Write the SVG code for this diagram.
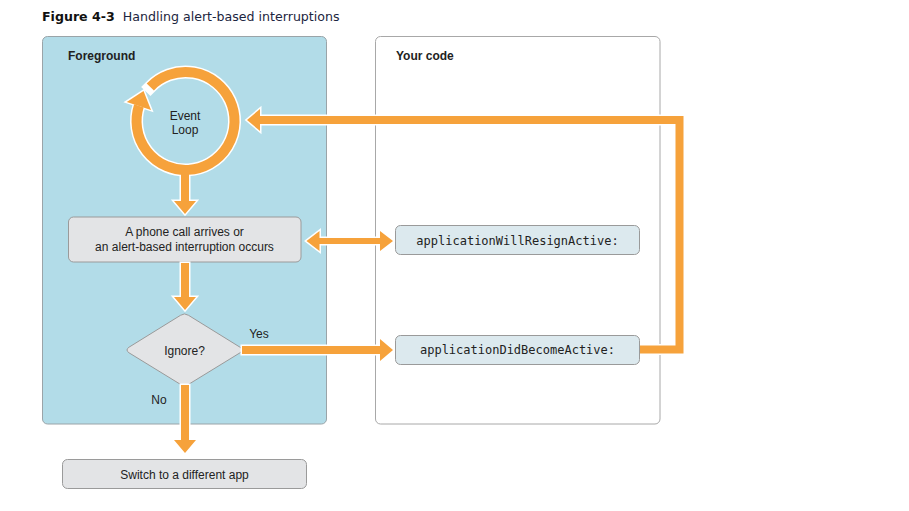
<svg xmlns="http://www.w3.org/2000/svg" xmlns:xlink="http://www.w3.org/1999/xlink" width="909" height="511" viewBox="0 0 909 511">
<style>
.title{font-family:"DejaVu Sans",sans-serif;font-size:12.6px;fill:#1c2540}
.hdr{font-family:"Liberation Sans",Arial,sans-serif;font-size:12px;font-weight:bold;fill:#222}
.lbl{font-family:"Liberation Sans",Arial,sans-serif;font-size:12px;fill:#222;text-anchor:middle}
.code{font-family:"DejaVu Sans Mono","Liberation Mono",monospace;font-size:12px;fill:#222;text-anchor:middle}
.box{fill:#e3e4e6;stroke:#9a9a9a;stroke-width:1}
.cbox{fill:#dce9ee;stroke:#9a9a9a;stroke-width:1}
.halo-s{fill:none;stroke:#fff;stroke-width:11;stroke-linejoin:miter}
.or-s{fill:none;stroke:#f6a23b;stroke-width:8;stroke-linejoin:miter}
.halo-f{fill:#fff;stroke:#fff;stroke-width:3;stroke-linejoin:miter}
.or-f{fill:#f6a23b;stroke:none}
</style>
<defs>
<path id="ring" d="M150.3,86.9 A49,49 0 1 1 138.9,105.9"/>
<polygon id="ringHead" points="126.8,101.9 151,109.9 143.5,91"/>
<polygon id="down1" points="181,170 189,170 189,201 196,201 185,214 174,201 181,201"/>
<polygon id="down2" points="181,263 189,263 189,297 196,297 185,310 174,297 181,297"/>
<polygon id="down3" points="181,385 189,385 189,440 196,440 185,453 174,440 181,440"/>
<polygon id="yes" points="242,346 380,346 380,339 393,350 380,361 380,354 242,354"/>
<polygon id="dbl" points="306.5,241 319.5,231 319.5,238 380,238 380,231 393,241 380,251 380,244 319.5,244 319.5,251"/>
<polyline id="loop" points="640,349.5 679.5,349.5 679.5,120 259,120"/>
<polygon id="loopHead" points="260,109 260,131 247,120"/>
</defs>
<text x="42" y="21" class="title"><tspan font-weight="bold" fill="#111">Figure 4-3</tspan><tspan dx="8">Handling alert-based interruptions</tspan></text>
<g id="foreground">
<rect x="42.5" y="36.5" width="284" height="387.5" rx="5" fill="#b2dce8" stroke="#9aa4a8"/>
<text x="68" y="60" class="hdr">Foreground</text>
</g>
<g id="yourcode">
<rect x="375.5" y="36.5" width="284.5" height="387.5" rx="5" fill="#fff" stroke="#a8a8a8"/>
<text x="396" y="60" class="hdr">Your code</text>
</g>
<g id="phonecall">
<rect x="68.5" y="217" width="232.5" height="45" rx="5" class="box"/>
<text class="lbl"><tspan x="184.5" y="235.5">A phone call arrives or</tspan><tspan x="184.5" y="250.5">an alert-based interruption occurs</tspan></text>
</g>
<g id="ignore">
<path d="M180.5,315.3 Q184.5,312.5 188.5,315.3 L240,347.2 Q244,350 240,352.8 L188.5,384.4 Q184.5,387 180.5,384.4 L129,352.8 Q125,350 129,347.2 Z" class="box"/>
<text x="184.5" y="354.5" class="lbl">Ignore?</text>
</g>
<g id="switch">
<rect x="62.5" y="459.5" width="244" height="29" rx="5" class="box"/>
<text x="184.5" y="478.5" class="lbl">Switch to a different app</text>
</g>
<g id="willresign">
<rect x="395.5" y="225.5" width="244" height="29" rx="5" class="cbox"/>
<text x="517.5" y="244.5" class="code">applicationWillResignActive:</text>
</g>
<g id="didbecome">
<rect x="395.5" y="335.5" width="244" height="29" rx="5" class="cbox"/>
<text x="517.5" y="354" class="code">applicationDidBecomeActive:</text>
</g>
<g id="connectors">
<g id="halos">
<use xlink:href="#ring" fill="none" stroke="#fff" stroke-width="13" stroke-linecap="square"/>
<use xlink:href="#ringHead" class="halo-f"/>
<use xlink:href="#down1" class="halo-f"/>
<use xlink:href="#down2" class="halo-f"/>
<use xlink:href="#down3" class="halo-f"/>
<use xlink:href="#yes" class="halo-f"/>
<use xlink:href="#dbl" class="halo-f"/>
<use xlink:href="#loop" class="halo-s"/>
<use xlink:href="#loopHead" class="halo-f"/>
</g>
<g id="arrows">
<use xlink:href="#ring" fill="none" stroke="#f6a23b" stroke-width="10"/>
<use xlink:href="#ringHead" class="or-f"/>
<use xlink:href="#down1" class="or-f"/>
<use xlink:href="#down2" class="or-f"/>
<use xlink:href="#down3" class="or-f"/>
<use xlink:href="#yes" class="or-f"/>
<use xlink:href="#dbl" class="or-f"/>
<use xlink:href="#loop" class="or-s"/>
<use xlink:href="#loopHead" class="or-f"/>
</g>
<text x="185" y="119.5" class="lbl">Event</text>
<text x="185" y="134" class="lbl">Loop</text>
<text x="259" y="337.5" class="lbl">Yes</text>
<text x="159" y="403.5" class="lbl">No</text>
</g>
</svg>
